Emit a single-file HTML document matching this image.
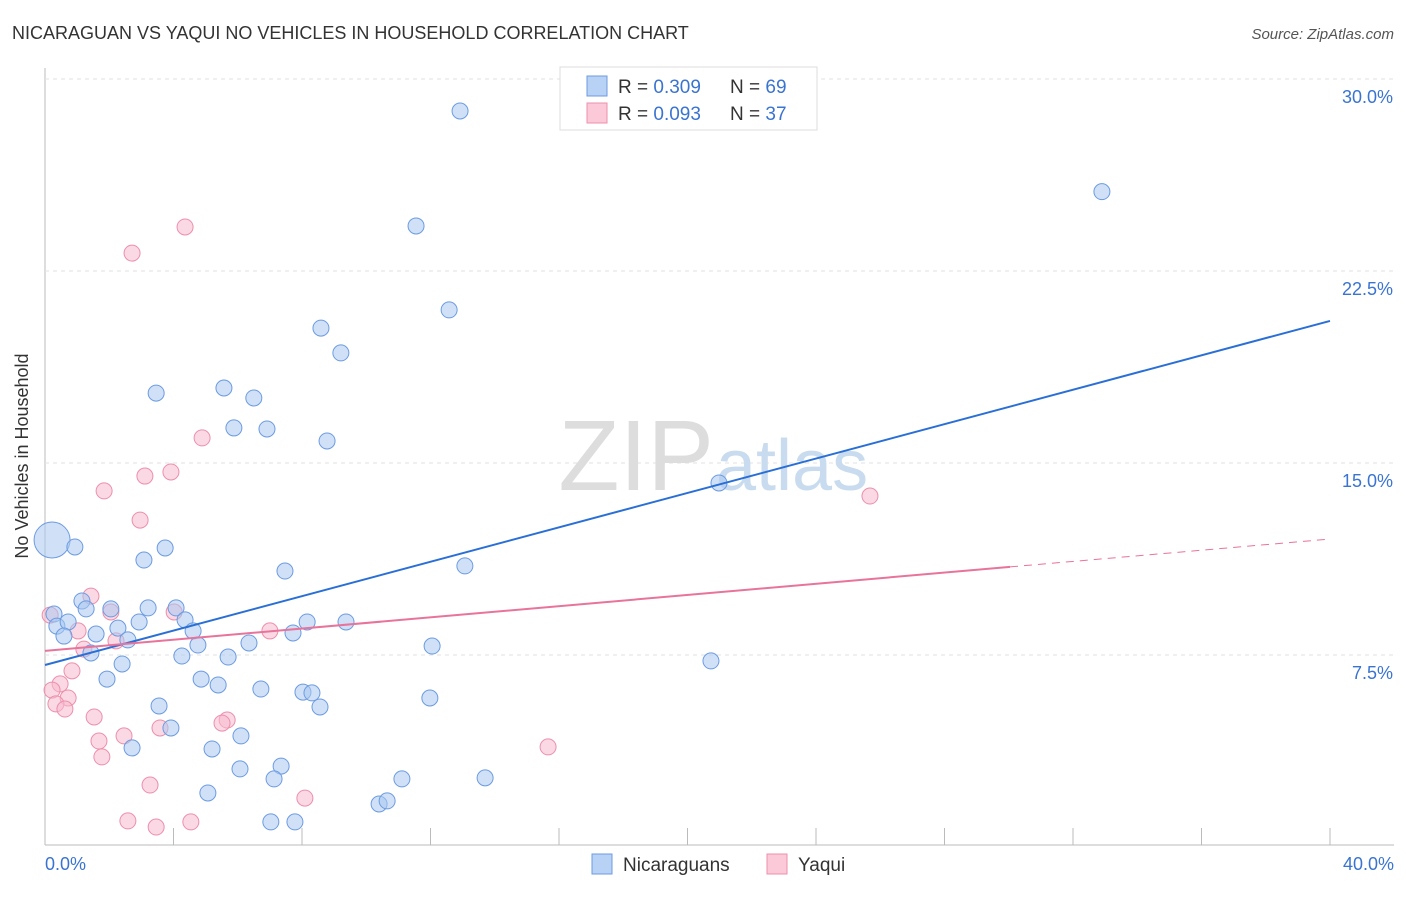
<!DOCTYPE html>
<html><head><meta charset="utf-8"><style>
body{margin:0;background:#fff;font-family:"Liberation Sans",sans-serif;}
svg text{font-family:"Liberation Sans",sans-serif;}
</style></head><body>
<svg width="1406" height="892">
<text x="12" y="39" font-size="18" fill="#333">NICARAGUAN VS YAQUI NO VEHICLES IN HOUSEHOLD CORRELATION CHART</text>
<text x="1394" y="39" font-size="15" fill="#555" font-style="italic" text-anchor="end">Source: ZipAtlas.com</text>
<g id="grid"></g>
<text x="714" y="490" font-size="100" fill="#ddd" text-anchor="end" font-family="Liberation Serif">ZIP</text>
<text x="716" y="490" font-size="72" fill="#c9dcef">atlas</text>
<g id="pts"></g>
<g id="trend"></g>
<text x="28" y="456" font-size="18" fill="#333" text-anchor="middle" transform="rotate(-90 28 456)">No Vehicles in Household</text>
<text x="45" y="870" font-size="18" fill="#3a74d0">0.0%</text>
<text x="1394" y="870" font-size="18" fill="#3a74d0" text-anchor="end">40.0%</text>
<g>
<rect x="560" y="67" width="257" height="63" fill="#fff" stroke="#ddd"/>
<rect x="587" y="76" width="20" height="20" fill="#b8d2f5" stroke="#6c9be0"/>
<rect x="587" y="103" width="20" height="20" fill="#fbc9d8" stroke="#ec8fab"/>
<text x="618" y="93" font-size="19" fill="#333">R = <tspan fill="#3a74d0">0.309</tspan></text>
<text x="730" y="93" font-size="19" fill="#333">N = <tspan fill="#3a74d0">69</tspan></text>
<text x="618" y="120" font-size="19" fill="#333">R = <tspan fill="#3a74d0">0.093</tspan></text>
<text x="730" y="120" font-size="19" fill="#333">N = <tspan fill="#3a74d0">37</tspan></text>
</g>
<g>
<rect x="592" y="854" width="20" height="20" fill="#b8d2f5" stroke="#6c9be0"/>
<text x="623" y="871" font-size="19" fill="#333">Nicaraguans</text>
<rect x="767" y="854" width="20" height="20" fill="#fbc9d8" stroke="#ec8fab"/>
<text x="798" y="871" font-size="19" fill="#333">Yaqui</text>
</g>
</svg>
<script>
const yTicks=[7.5,15,22.5,30];
const xTicks=[0,4,8,12,16,20,24,28,32,36,40];
const nicX=[12.92,32.9,11.55,12.58,8.59,9.21,3.46,5.57,6.5,5.88,6.91,8.78,20.98,0.22,0.93,3.74,3.08,7.47,13.07,1.15,1.28,2.05,3.21,4.08,0.28,0.37,0.72,0.59,1.59,2.27,2.93,4.36,4.61,2.58,8.16,9.37,7.72,1.43,4.76,6.35,4.26,5.7,2.4,12.05,20.73,1.93,4.86,5.39,6.72,8.03,8.31,8.56,11.98,3.55,3.92,2.71,5.2,6.1,6.07,7.35,7.13,5.07,11.11,13.7,10.4,10.65,7.03,7.78];
const nicY=[28.75,25.6,24.26,20.98,20.27,19.3,17.73,17.93,17.54,16.37,16.33,15.86,14.22,11.99,11.72,11.68,11.21,10.78,10.98,9.61,9.3,9.3,9.34,9.34,9.1,8.63,8.79,8.24,8.32,8.55,8.79,8.87,8.44,8.09,8.79,8.79,8.36,7.58,7.89,7.97,7.46,7.42,7.15,7.85,7.27,6.56,6.56,6.33,6.17,6.05,6.02,5.47,5.82,5.51,4.65,3.87,3.83,4.34,3.05,3.16,2.66,2.11,2.66,2.7,1.68,1.8,0.98,0.98];
const yaqX=[4.36,2.71,4.89,3.92,3.11,1.84,2.96,25.68,1.43,2.05,4.02,0.16,1.03,2.21,1.21,7.0,0.84,0.47,0.22,0.72,0.34,0.62,1.53,5.67,5.51,3.58,2.46,1.68,1.77,15.66,3.27,8.09,2.58,3.46,4.54];
const yaqY=[24.22,23.2,15.98,14.65,14.49,13.91,12.77,13.71,9.8,9.18,9.18,9.06,8.44,8.05,7.73,8.44,6.88,6.37,6.13,5.82,5.59,5.39,5.08,4.96,4.84,4.65,4.34,4.14,3.52,3.91,2.42,1.91,1.02,0.78,0.98];
const nicTrend=[7.11,20.55];
const yaqTrend=[7.66,12.03];
const yaqSolidEnd=30.04;
const sx=v=>45+v*32.125, sy=v=>847-v*25.6;
const NS="http://www.w3.org/2000/svg";
function mk(tag,attrs,parent){const e=document.createElementNS(NS,tag);for(const k in attrs)e.setAttribute(k,attrs[k]);parent.appendChild(e);return e;}
const grid=document.getElementById('grid');
let a=mk('line',{x1:45,y1:68,x2:45,y2:845,stroke:'#bbb'},grid);


a=mk('line',{x1:45,y1:845,x2:1394,y2:845,stroke:'#bbb'},grid);


yTicks.forEach(t=>{const l=mk('line',{x1:45,y1:sy(t),x2:1394,y2:sy(t),stroke:'#e2e2e2','stroke-dasharray':'4,4'},grid);


const tx=mk('text',{x:1393,y:sy(t)+24,'font-size':18,fill:'#3a74d0','text-anchor':'end'},grid);tx.textContent=t.toFixed(1)+'%';

});
xTicks.forEach(t=>{const l=mk('line',{x1:sx(t),y1:828,x2:sx(t),y2:845,stroke:'#bbb'},grid);

});
const pts=document.getElementById('pts');
yaqX.forEach((x,i)=>{const c=mk('circle',{cx:sx(x),cy:sy(yaqY[i]),r:8,fill:'rgba(248,185,205,0.55)',stroke:'#ec8fab','stroke-width':1},pts);

});
nicX.forEach((x,i)=>{const c=mk('circle',{cx:sx(x),cy:sy(nicY[i]),r:i==13?18:8,fill:'rgba(170,200,240,0.55)',stroke:'#6c9be0','stroke-width':1},pts);

});
const tr=document.getElementById('trend');
let l=mk('line',{x1:sx(0),y1:sy(nicTrend[0]),x2:sx(40),y2:sy(nicTrend[1]),stroke:'#2a6fd6','stroke-width':2},tr);


const yq=v=>yaqTrend[0]+(yaqTrend[1]-yaqTrend[0])*v/40;
l=mk('line',{x1:sx(0),y1:sy(yq(0)),x2:sx(yaqSolidEnd),y2:sy(yq(yaqSolidEnd)),stroke:'#e8739b','stroke-width':2},tr);


l=mk('line',{x1:sx(yaqSolidEnd),y1:sy(yq(yaqSolidEnd)),x2:sx(40),y2:sy(yq(40)),stroke:'#e8739b','stroke-width':1,'stroke-dasharray':'8,6'},tr);


</script>
</body></html>
